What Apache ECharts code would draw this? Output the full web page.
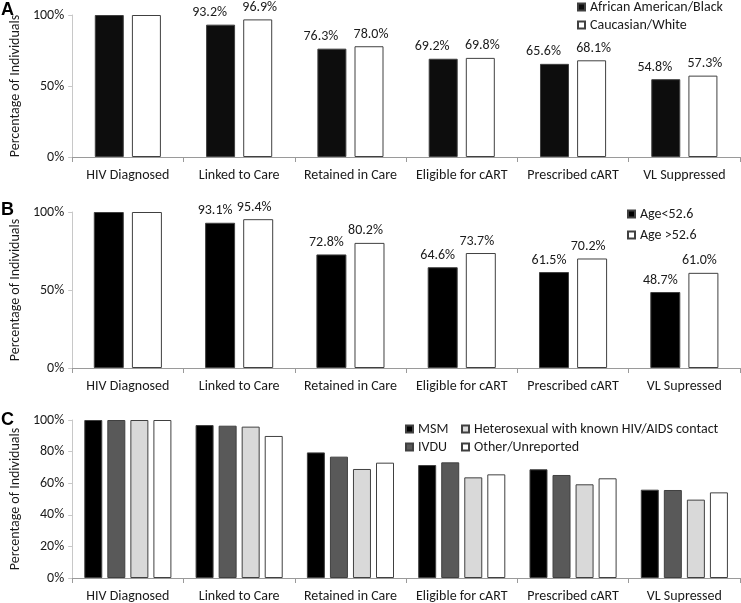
<!DOCTYPE html>
<html>
<head>
<meta charset="utf-8">
<script src="https://cdn.jsdelivr.net/npm/echarts@6/dist/echarts.min.js"></script>
<style>
html,body{margin:0;padding:0;background:#fff;}
#chart{width:741px;height:603px;}
</style>
</head>
<body>
<div id="chart"></div>
<script>
// ---- data ----
const categoriesA = ['HIV Diagnosed', 'Linked to Care', 'Retained in Care', 'Eligible for cART', 'Prescribed cART', 'VL Suppressed'];
const categoriesB = ['HIV Diagnosed', 'Linked to Care', 'Retained in Care', 'Eligible for cART', 'Prescribed cART', 'VL Supressed'];
const categoriesC = ['HIV Diagnosed', 'Linked to Care', 'Retained in Care', 'Eligible for cART', 'Prescribed cART', 'VL Supressed'];

const africanAmerican = [100, 93.2, 76.3, 69.2, 65.6, 54.8];
const caucasian = [100, 96.9, 78.0, 69.8, 68.1, 57.3];

const ageUnder = [100, 93.1, 72.8, 64.6, 61.5, 48.7];
const ageOver = [100, 95.4, 80.2, 73.7, 70.2, 61.0];

const msm = [100, 96.8, 79.5, 71.5, 68.8, 55.9];
const ivdu = [100, 96.4, 76.8, 73.2, 65.2, 55.7];
const hetero = [100, 95.8, 69.0, 63.7, 59.3, 49.6];
const other = [100, 89.9, 73.0, 65.6, 63.1, 54.2];

const ticksA = [0, 50, 100];
const ticksC = [0, 20, 40, 60, 80, 100];

// ---- chart ----
const FONT = 'Carlito, Lato, sans-serif';
const FS = 14;
const TXT = '#1a1a1a';
const chart = echarts.init(document.getElementById('chart'), null, {renderer: 'canvas'});

function xAxis(gi, cats) {
  return {
    type: 'category', gridIndex: gi, data: cats,
    axisLine: {lineStyle: {color: '#9a9a9a', width: 1}},
    axisTick: {show: true, length: 5, alignWithLabel: false, lineStyle: {color: '#9a9a9a'}},
    axisLabel: {color: TXT, fontFamily: FONT, fontSize: FS, margin: 11, interval: 0}
  };
}
function yAxis(gi, ticks) {
  return {
    type: 'value', gridIndex: gi, min: ticks[0], max: ticks[ticks.length - 1],
    interval: ticks[1] - ticks[0],
    name: 'Percentage of Individuals', nameLocation: 'middle', nameGap: 46,
    nameTextStyle: {color: TXT, fontFamily: FONT, fontSize: FS},
    axisLine: {show: true, lineStyle: {color: '#c8c8c8'}},
    axisTick: {show: true, length: 4, lineStyle: {color: '#c8c8c8'}},
    splitLine: {show: false},
    axisLabel: {color: TXT, fontFamily: FONT, fontSize: FS, margin: 8, formatter: v => v + '%'}
  };
}
function labelCfg(dx) {
  return {
    show: true, position: 'top', distance: 5, offset: [dx, 0],
    color: TXT, fontFamily: FONT, fontSize: FS,
    formatter: p => p.dataIndex === 0 ? '' : p.value.toFixed(1) + '%'
  };
}
function bar(name, gi, data, color, bw, gap, lab) {
  const s = {
    name: name, type: 'bar', xAxisIndex: gi, yAxisIndex: gi, data: data,
    barWidth: bw, barGap: gap,
    itemStyle: {color: color, borderColor: '#404040', borderWidth: 1},
    emphasis: {disabled: true}, animation: false
  };
  if (lab !== undefined) s.label = labelCfg(lab);
  return s;
}
const legendText = {color: TXT, fontFamily: FONT, fontSize: FS};
const legendBase = {orient: 'vertical', itemWidth: 7, itemHeight: 7, icon: 'rect', textStyle: legendText, padding: 0};

const option = {
  backgroundColor: '#fff',
  animation: false,
  title: [
    {text: 'A', left: 1, top: 1, padding: 0, textStyle: {fontSize: 18, fontWeight: 'bold', color: '#000', fontFamily: 'Liberation Sans, Arial'}},
    {text: 'B', left: 1, top: 201, padding: 0, textStyle: {fontSize: 18, fontWeight: 'bold', color: '#000', fontFamily: 'Liberation Sans, Arial'}},
    {text: 'C', left: 1, top: 411, padding: 0, textStyle: {fontSize: 18, fontWeight: 'bold', color: '#000', fontFamily: 'Liberation Sans, Arial'}}
  ],
  grid: [
    {left: 58, right: 1, top: 15, height: 142},
    {left: 58, right: 1, top: 212, height: 156},
    {left: 58, right: 1, top: 420, height: 158}
  ],
  legend: [
    Object.assign({data: ['African American/Black', 'Caucasian/White'], left: 577, top: 0, itemGap: 4}, legendBase),
    Object.assign({data: ['Age<52.6', 'Age >52.6'], left: 627, top: 207, itemGap: 7}, legendBase),
    Object.assign({data: ['MSM', 'IVDU'], left: 405, top: 422, itemGap: 4}, legendBase),
    Object.assign({data: ['Heterosexual with known HIV/AIDS contact', 'Other/Unreported'], left: 461, top: 422, itemGap: 4}, legendBase)
  ],
  xAxis: [xAxis(0, categoriesA), xAxis(1, categoriesB), xAxis(2, categoriesC)],
  yAxis: [yAxis(0, ticksA), yAxis(1, ticksA), yAxis(2, ticksC)],
  series: [
    bar('African American/Black', 0, africanAmerican, '#0d0d0d', 29, '28%', -11),
    bar('Caucasian/White', 0, caucasian, '#ffffff', 29, '28%', 2),
    bar('Age<52.6', 1, ageUnder, '#000000', 30, '27%', -5),
    bar('Age >52.6', 1, ageOver, '#ffffff', 30, '27%', -4),
    bar('MSM', 2, msm, '#000000', 18, '28%'),
    bar('IVDU', 2, ivdu, '#595959', 18, '28%'),
    bar('Heterosexual with known HIV/AIDS contact', 2, hetero, '#d9d9d9', 18, '28%'),
    bar('Other/Unreported', 2, other, '#ffffff', 18, '28%')
  ]
};
chart.setOption(option);
</script>
</body>
</html>
